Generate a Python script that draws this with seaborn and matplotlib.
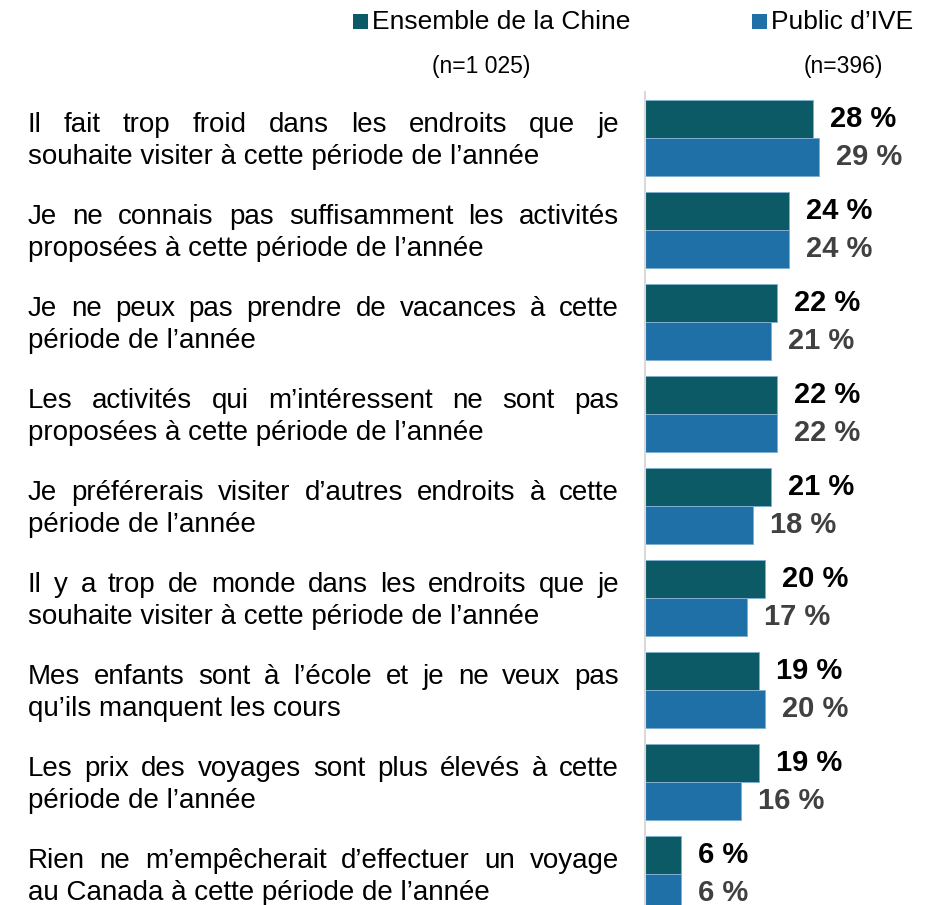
import matplotlib
matplotlib.use("Agg")
import matplotlib.pyplot as plt
from matplotlib.transforms import IdentityTransform
from matplotlib.patches import Rectangle
import pandas as pd
import seaborn as sns

# --- data -------------------------------------------------------------
raisons = [
    "Il fait trop froid dans les endroits que je\nsouhaite visiter à cette période de l’année",
    "Je ne connais pas suffisamment les activités\nproposées à cette période de l’année",
    "Je ne peux pas prendre de vacances à cette\npériode de l’année",
    "Les activités qui m’intéressent ne sont pas\nproposées à cette période de l’année",
    "Je préférerais visiter d’autres endroits à cette\npériode de l’année",
    "Il y a trop de monde dans les endroits que je\nsouhaite visiter à cette période de l’année",
    "Mes enfants sont à l’école et je ne veux pas\nqu’ils manquent les cours",
    "Les prix des voyages sont plus élevés à cette\npériode de l’année",
    "Rien ne m’empêcherait d’effectuer un voyage\nau Canada à cette période de l’année",
]
ensemble_chine = [28, 24, 22, 22, 21, 20, 19, 19, 6]
public_ive = [29, 24, 21, 22, 18, 17, 20, 16, 6]
groupes = ["Ensemble de la Chine", "Public d’IVE"]
effectifs = ["(n=1 025)", "(n=396)"]

df = pd.DataFrame({
    "raison": raisons * 2,
    "pct": ensemble_chine + public_ive,
    "groupe": [groupes[0]] * len(raisons) + [groupes[1]] * len(raisons),
})

# --- style ------------------------------------------------------------
sns.set_style("white")
plt.rcParams["font.family"] = ["Liberation Sans", "DejaVu Sans"]

COL_DARK = "#0b5a66"
COL_BLUE = "#2070a8"
W, H, DPI = 925, 905, 100
LABEL_SIZE = 20

fig = plt.figure(figsize=(W / DPI, H / DPI), dpi=DPI)
ax = fig.add_axes([645 / W, 0, (W - 645) / W, (H - 92) / H])

sns.barplot(data=df, y="raison", x="pct", hue="groupe", orient="h",
            hue_order=groupes, order=raisons,
            palette=[COL_DARK, COL_BLUE], saturation=1, width=0.825,
            edgecolor="#7fb0d0", linewidth=0.7, legend=False, ax=ax)

ax.set_xlim(0, (W - 645) / 6.0)
ax.set_ylim(8.334, -0.503)
ax.set_xlabel("")
ax.set_ylabel("")
ax.tick_params(left=False, labelleft=False, bottom=False, labelbottom=False)
for side in ("top", "right", "bottom"):
    ax.spines[side].set_visible(False)
ax.spines["left"].set_color("#d9d9d9")
ax.spines["left"].set_linewidth(1.5)

# value labels
for cont, vals, col in zip(ax.containers, [ensemble_chine, public_ive],
                           ["#000000", "#404040"]):
    ax.bar_label(cont, labels=[f"{v} %" for v in vals], padding=12,
                 fontsize=21, fontweight="bold", color=col)

# --- justified category labels -----------------------------------------
renderer = fig.canvas.get_renderer()
x_left, x_right = 28, 619
ident = IdentityTransform()
for i, label in enumerate(raisons):
    first, second = label.split("\n")
    yc = ax.transData.transform((0, i))[1]
    base1 = yc + 6.3
    base2 = yc - 26.0
    words = first.split()
    objs = [fig.text(0, base1, w, fontsize=LABEL_SIZE, color="#000000",
                     va="baseline", ha="left", transform=ident) for w in words]
    widths = [o.get_window_extent(renderer).width for o in objs]
    gap = (x_right - x_left - sum(widths)) / (len(words) - 1)
    gap = max(gap, 0.2 * LABEL_SIZE)
    x = x_left
    for o, wdt in zip(objs, widths):
        o.set_x(x)
        x += wdt + gap
    fig.text(x_left, base2, second, fontsize=LABEL_SIZE, color="#000000",
             va="baseline", ha="left", transform=ident)

# --- legend -----------------------------------------------------------
def px(x, y):
    return x, H - y

for (sq_x, txt_x, n_cx), col, name, n in zip(
        [(353, 372, 481), (752, 771, 843)], [COL_DARK, COL_BLUE], groupes, effectifs):
    fig.patches.append(Rectangle(px(sq_x, 29), 15, 15, transform=ident,
                                 facecolor=col, edgecolor="none"))
    fig.text(*px(txt_x, 29), name, fontsize=19, color="#000000",
             va="baseline", ha="left", transform=ident)
    fig.text(*px(n_cx, 73), n, fontsize=16.5, color="#000000",
             va="baseline", ha="center", transform=ident)

fig.savefig("out.png", dpi=DPI)
